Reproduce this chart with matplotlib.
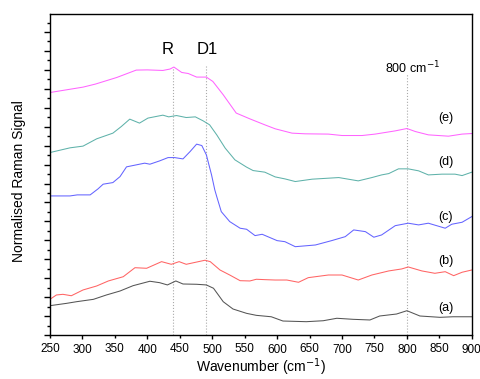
"""
Raman spectra (a)-(e), stacked with offsets, redrawn from the reference figure.
"""

import matplotlib
matplotlib.use("Agg")
import matplotlib.pyplot as plt
import matplotlib.ticker as ticker

plt.rcParams["font.family"] = ["Liberation Sans", "DejaVu Sans"]

# Spectra (wavenumber in cm^-1, offset signal in arbitrary units)
wn_e = [250, 301, 320, 353, 383, 400, 424, 435, 441, 453, 463, 476, 491, 501, 517, 537,
        558, 581, 597, 623, 643, 679, 700, 731, 751, 782, 800, 813, 833, 864, 885, 900]
sig_e = [25.61, 26.18, 26.50, 27.20, 27.98, 28.00, 27.94, 28.09, 28.30, 27.73, 27.62, 27.24,
         27.24, 26.78, 25.37, 23.44, 22.83, 22.20, 21.78, 21.32, 21.25, 21.22, 21.07, 21.07,
         21.22, 21.56, 21.81, 21.49, 21.14, 21.00, 21.22, 21.28]

wn_d = [250, 281, 301, 322, 347, 360, 373, 388, 401, 424, 433, 445, 460, 474, 486, 496, 507,
        520, 535, 553, 563, 581, 597, 612, 628, 654, 695, 725, 746, 761, 772, 787, 802, 818,
        833, 854, 874, 885, 900]
sig_d = [19.27, 19.77, 19.95, 20.72, 21.32, 22.02, 22.80, 22.38, 22.91, 23.22, 23.04, 23.18,
         22.97, 23.04, 22.62, 22.20, 21.14, 19.74, 18.50, 17.73, 17.37, 17.20, 16.70, 16.49,
         16.21, 16.46, 16.63, 16.28, 16.63, 16.91, 17.05, 17.55, 17.55, 17.34, 16.91, 16.99,
         16.99, 16.84, 17.20]

wn_c = [250, 281, 292, 312, 324, 332, 347, 358, 368, 383, 396, 404, 419, 432, 442, 455, 466,
        476, 484, 491, 499, 504, 507, 514, 527, 543, 553, 566, 577, 600, 612, 628, 659, 684,
        705, 718, 736, 749, 761, 782, 802, 818, 833, 859, 869, 885, 900]
sig_c = [14.69, 14.69, 14.80, 14.80, 15.43, 15.93, 16.10, 16.73, 17.76, 17.97, 18.15, 18.04,
         18.39, 18.74, 18.74, 18.60, 19.38, 20.16, 20.01, 19.03, 16.91, 15.33, 14.62, 13.03,
         11.98, 11.28, 11.17, 10.50, 10.64, 9.97, 9.86, 9.33, 9.51, 9.97, 10.39, 11.10, 10.92,
         10.33, 10.57, 11.55, 11.81, 11.63, 11.81, 11.28, 11.70, 11.91, 12.51]

wn_b = [250, 260, 270, 283, 301, 322, 340, 363, 381, 399, 422, 437, 449, 460, 489, 497, 512,
        527, 543, 558, 568, 581, 597, 615, 633, 648, 679, 700, 725, 746, 772, 792, 802, 823,
        843, 859, 872, 885, 900]
sig_b = [3.77, 4.23, 4.30, 4.15, 4.76, 5.18, 5.71, 6.16, 7.11, 7.05, 7.75, 7.47, 7.75, 7.47,
         7.90, 7.75, 6.87, 6.34, 5.74, 5.71, 5.89, 5.85, 5.81, 5.81, 5.57, 6.06, 6.34, 6.34,
         5.81, 6.34, 6.77, 6.98, 7.19, 6.77, 6.52, 6.69, 6.27, 6.63, 6.87]

wn_a = [250, 276, 291, 317, 337, 358, 378, 404, 419, 431, 444, 455, 476, 491, 502, 517, 532,
        553, 568, 591, 609, 645, 671, 692, 717, 743, 758, 784, 800, 820, 851, 871, 900]
sig_a = [3.10, 3.35, 3.52, 3.77, 4.23, 4.65, 5.21, 5.68, 5.53, 5.29, 5.71, 5.39, 5.36, 5.29,
         4.94, 3.52, 2.75, 2.29, 2.08, 1.93, 1.48, 1.41, 1.51, 1.77, 1.66, 1.59, 2.01, 2.22,
         2.57, 2.01, 1.87, 1.93, 1.93]

# Marker lines: position and top end
mark_pos = [440, 491, 800]
mark_top = [28.3, 28.4, 27.7]

SPECTRA = [
    (wn_a, sig_a, "#555555", "(a)", 2.85),
    (wn_b, sig_b, "#ff6464", "(b)", 7.85),
    (wn_c, sig_c, "#6464ff", "(c)", 12.5),
    (wn_d, sig_d, "#5fb2aa", "(d)", 18.26),
    (wn_e, sig_e, "#ff64ff", "(e)", 22.9),
]

fig = plt.figure(figsize=(4.8, 3.79), dpi=100)
ax = fig.add_axes([0.104, 0.116, 0.879, 0.847])

for x, top in zip(mark_pos, mark_top):
    ax.plot([x, x], [0, top], color="#aaaaaa", linestyle=":", linewidth=0.8, zorder=1)

for wn, sig, color, label, ylab in SPECTRA:
    ax.plot(wn, sig, color=color, linewidth=0.75, zorder=2)
    ax.text(860, ylab, label, fontsize=9, ha="center", va="center")

ax.text(432, 30.2, "R", fontsize=12, ha="center", va="center")
ax.text(492, 30.2, "D1", fontsize=12, ha="center", va="center")
ax.text(808, 28.2, "800 cm$^{-1}$", fontsize=9, ha="center", va="center")

ax.set_xlim(250, 900)
ax.set_ylim(0, 33.9)
ax.xaxis.set_major_locator(ticker.MultipleLocator(100))
ax.xaxis.set_minor_locator(ticker.FixedLocator(list(range(250, 900, 100))))
ax.xaxis.set_minor_formatter(ticker.FormatStrFormatter("%d"))
ax.yaxis.set_major_locator(ticker.MultipleLocator(2))
ax.yaxis.set_minor_locator(ticker.MultipleLocator(1))
ax.yaxis.set_major_formatter(ticker.NullFormatter())

ax.tick_params(axis="x", which="major", direction="out", length=3.2, width=1, labelsize=8.5)
ax.tick_params(axis="x", which="minor", direction="out", length=2.2, width=1, labelsize=8.5)
ax.tick_params(axis="y", which="major", direction="out", length=4.3, width=1)
ax.tick_params(axis="y", which="minor", direction="out", length=2.2, width=1)
for side in ax.spines.values():
    side.set_linewidth(1.0)

ax.set_xlabel("Wavenumber (cm$^{-1}$)", fontsize=10)
ax.set_ylabel("Normalised Raman Signal", fontsize=10)
ax.xaxis.set_label_coords(0.5, -0.068)
ax.yaxis.set_label_coords(-0.056, 0.48)

fig.savefig("out.png", dpi=100)
